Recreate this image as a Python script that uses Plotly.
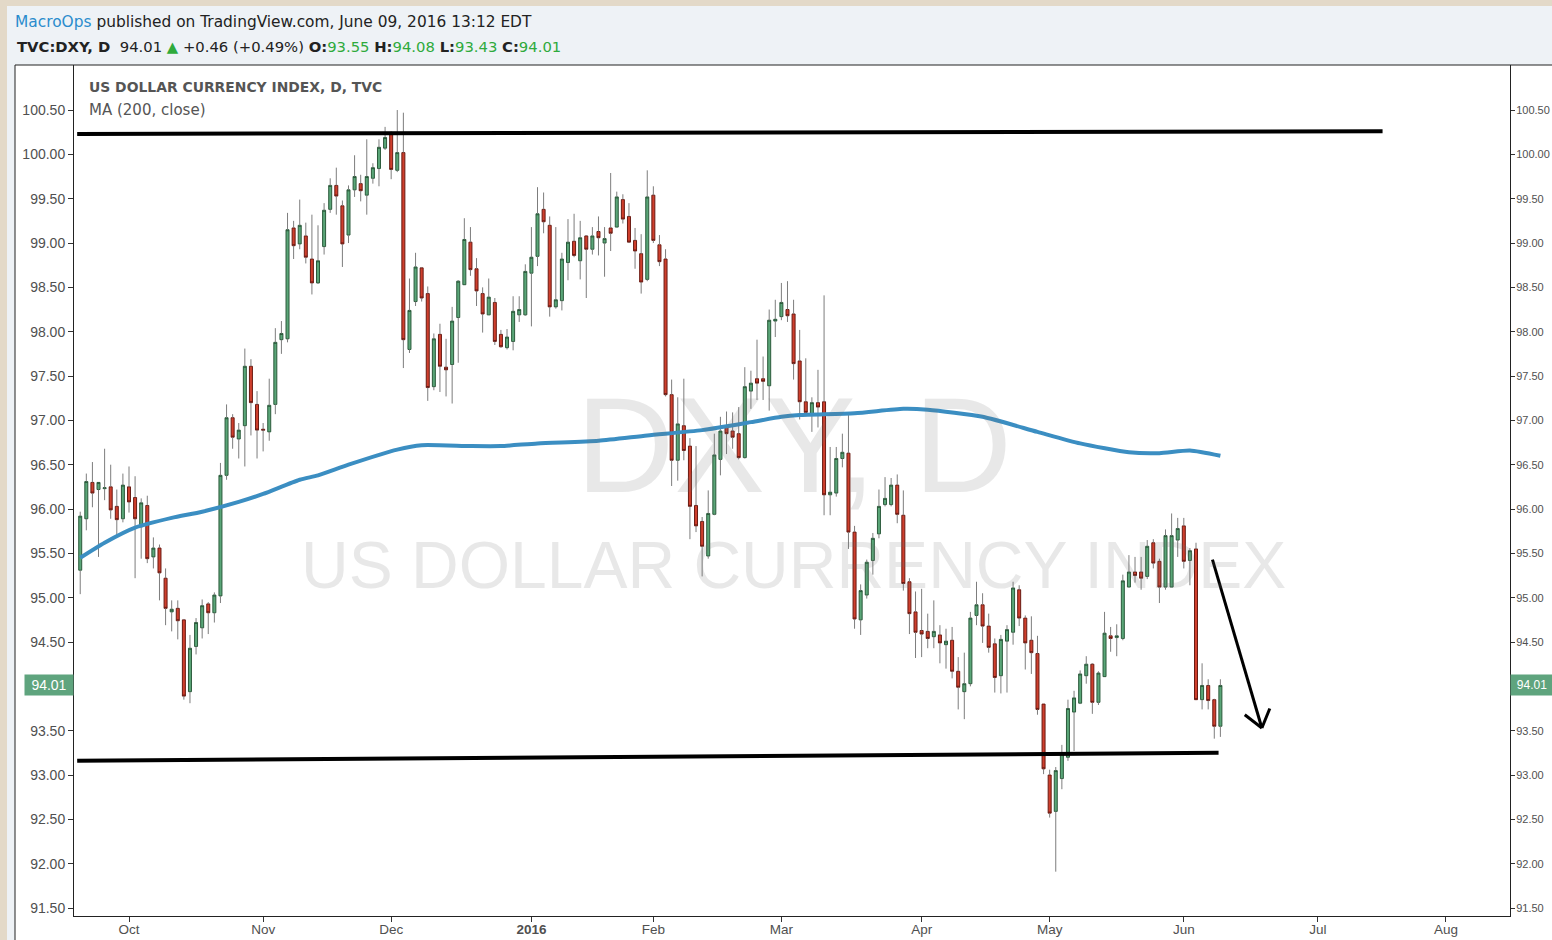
import pandas as pd
import plotly.graph_objects as go

# ---------------- data ----------------
FIRST_DAY = "2015-09-21"
LAST_AXIS_DAY = "2016-08-31"
HOLIDAYS = ["2016-01-01"]

OPEN = [95.31,95.89,96.30,96.22,96.23,96.25,96.03,95.89,96.25,96.13,95.80,96.04,95.46,95.56,95.22,94.84,94.88,94.75,93.94,94.45,
        94.66,94.93,94.83,95.02,96.38,97.03,96.79,96.94,97.61,97.18,96.90,96.87,97.18,97.91,97.92,99.17,98.99,99.08,98.82,98.55,
        98.96,99.38,99.65,99.42,99.09,99.60,99.67,99.54,99.73,99.84,100.07,100.24,99.82,100.02,97.80,98.34,98.72,98.43,97.38,97.97,
        97.60,97.63,98.16,98.53,99.01,98.71,98.43,98.19,98.33,97.97,97.82,97.89,98.19,98.19,98.66,98.85,99.38,99.20,98.28,98.35,
        98.78,99.02,98.80,99.08,98.93,99.13,99.00,99.17,99.18,99.49,99.30,99.03,98.88,98.59,99.54,98.98,98.82,97.29,96.55,96.94,
        96.71,96.04,95.86,95.47,95.94,96.56,96.93,96.88,96.85,96.58,97.33,97.47,97.47,97.39,98.12,98.17,98.25,98.20,97.67,97.21,
        97.07,97.20,97.21,96.16,96.18,96.57,96.63,95.74,94.75,95.03,95.42,95.72,96.05,96.05,96.27,95.93,95.18,94.84,94.63,94.62,
        94.56,94.58,94.47,94.52,94.17,93.94,94.03,94.80,94.92,94.68,94.48,94.12,94.51,94.61,95.09,94.77,94.52,94.37,93.80,93.00,
        92.59,92.96,93.20,93.71,93.81,94.12,94.25,93.82,94.11,94.57,94.55,94.54,95.12,95.29,95.29,95.24,95.62,95.41,95.12,95.12,
        95.65,95.81,95.42,95.55,93.85,94.01,93.85,93.55]
HIGH = [95.97,96.40,96.53,96.30,96.68,96.50,96.22,96.40,96.48,96.37,96.12,96.15,95.68,95.60,95.33,94.97,94.97,94.76,94.58,94.77,
        94.98,94.95,95.06,96.52,97.18,97.07,96.97,97.81,97.69,97.33,96.97,97.47,98.04,98.12,99.34,99.25,99.49,99.23,99.32,99.20,
        99.45,99.73,99.85,99.48,99.65,99.99,99.77,100.17,99.90,100.17,100.31,100.26,100.50,100.47,98.60,98.89,98.73,98.51,97.98,98.09,
        97.92,98.28,98.58,99.28,99.18,98.83,98.50,98.60,98.38,98.02,98.03,98.40,98.40,98.76,99.18,99.63,99.57,99.30,99.18,98.89,
        99.27,99.33,99.25,99.09,99.18,99.30,99.18,99.79,99.58,99.55,99.45,99.17,99.10,99.82,99.64,99.09,98.93,97.46,97.26,97.47,
        96.80,96.71,95.91,96.21,96.85,97.04,97.10,97.09,97.15,97.60,97.56,97.91,97.72,98.25,98.36,98.55,98.57,98.36,98.02,97.70,
        97.26,97.57,98.41,96.70,96.70,96.85,97.06,95.81,95.15,95.43,95.73,96.22,96.36,96.35,96.39,96.21,95.22,95.07,95.10,94.82,
        94.97,94.69,94.65,94.67,94.33,94.38,94.84,95.18,95.05,94.82,94.54,94.58,94.69,95.18,95.14,94.80,94.79,94.57,93.80,93.06,
        93.09,93.34,93.85,93.95,94.18,94.34,94.26,94.17,94.84,94.67,94.70,95.26,95.48,95.46,95.46,95.65,95.66,95.44,95.77,95.95,
        95.90,95.90,95.56,95.62,94.26,94.08,93.86,94.08]
LOW = [95.04,95.76,96.02,95.46,96.10,95.89,95.69,95.85,95.96,95.22,95.44,95.39,95.33,94.97,94.69,94.62,94.53,93.85,93.81,94.36,
       94.54,94.59,94.72,94.94,96.33,96.68,96.57,96.48,96.83,96.57,96.65,96.77,97.07,97.75,97.88,98.82,98.93,98.77,98.42,98.54,
       98.87,99.34,99.32,98.73,99.00,99.52,99.47,99.32,99.67,99.64,100.05,99.72,99.80,97.59,97.76,98.29,98.34,97.22,97.34,97.32,
       97.27,97.19,97.65,98.53,98.63,98.29,97.99,98.19,97.85,97.82,97.80,97.79,98.11,98.18,98.06,98.74,99.11,98.17,98.26,98.24,
       98.58,98.84,98.59,98.38,98.87,98.86,98.62,98.91,99.18,99.22,99.00,98.71,98.43,98.57,99.00,98.74,97.27,96.26,96.32,96.55,
       95.66,95.74,95.24,95.44,95.93,96.38,96.62,96.68,96.56,96.57,97.13,97.23,97.23,97.11,97.94,98.13,98.11,97.46,97.01,97.05,
       96.87,96.92,95.93,95.93,96.14,96.47,95.55,94.65,94.58,94.99,95.26,95.67,96.03,96.03,95.84,95.08,94.59,94.32,94.33,94.43,
       94.43,94.26,94.20,94.09,93.74,93.63,94.00,94.69,94.49,94.38,93.93,93.92,93.93,94.47,94.68,94.19,94.14,93.68,93.01,92.52,
       91.91,92.84,93.16,93.27,93.80,94.03,93.69,93.79,94.11,94.39,94.34,94.52,95.12,95.17,95.09,95.21,95.33,94.94,95.09,95.12,
       95.46,95.33,95.14,93.85,93.74,93.74,93.41,93.43]
CLOSE = [95.92,96.31,96.18,96.30,96.24,95.99,95.88,96.27,96.08,95.89,96.07,95.44,95.56,95.28,94.88,94.87,94.74,93.89,94.43,94.72,
         94.91,94.83,95.03,96.38,97.03,96.81,96.89,97.61,97.20,96.89,96.89,97.17,97.88,97.98,99.15,98.97,99.20,98.84,98.55,98.80,
         99.37,99.65,99.53,98.99,99.60,99.75,99.59,99.75,99.85,100.08,100.19,99.83,100.02,97.91,98.24,98.73,98.38,97.37,97.92,97.61,
         97.57,98.12,98.57,99.04,98.70,98.46,98.20,98.39,97.89,97.83,97.94,98.23,98.25,98.68,98.84,99.33,99.24,98.28,98.36,98.82,
         99.01,98.86,99.06,98.93,99.08,99.06,99.05,99.11,99.52,99.27,99.01,98.91,98.56,99.52,99.03,98.79,97.29,96.55,96.96,96.66,
         96.03,95.81,95.58,95.95,96.61,96.88,96.85,96.81,96.58,97.38,97.42,97.42,97.44,98.13,98.14,98.33,98.18,97.64,97.21,97.09,
         97.20,97.15,96.16,96.19,96.57,96.64,95.74,94.76,95.08,95.40,95.67,96.03,96.12,96.27,95.94,95.16,94.82,94.61,94.59,94.54,
         94.62,94.49,94.51,94.17,93.99,94.03,94.77,94.92,94.68,94.44,94.10,94.53,94.64,95.11,94.77,94.49,94.38,93.74,93.07,92.57,
         93.05,93.25,93.75,93.87,94.14,94.25,93.82,94.15,94.60,94.54,94.57,95.19,95.29,95.25,95.22,95.58,95.39,95.12,95.70,95.70,
         95.78,95.41,95.53,93.85,94.01,93.84,93.55,94.01]

# 200-day moving average, read at sampled bars (bar index, value)
MA_IDX = [0, 4, 9, 15, 20, 26, 30, 36, 39, 44, 52, 56, 64, 69, 75, 85, 93, 102, 110, 115,
          118, 127, 135, 139, 148, 157, 164, 172, 177, 182, 187]
MA_VAL = [95.45, 95.62, 95.79, 95.90, 95.97, 96.08, 96.17, 96.33, 96.38, 96.50, 96.67, 96.72, 96.71, 96.71, 96.74,
          96.77, 96.83, 96.89, 96.98, 97.04, 97.06, 97.08, 97.13, 97.12, 97.04, 96.87, 96.74, 96.64, 96.63, 96.66, 96.60]

# hand-drawn annotations (bar index, price)
RESIST_X, RESIST_Y = [-0.5, 213.6], [100.23, 100.26]
SUPPORT_X, SUPPORT_Y = [-0.5, 186.7], [93.16, 93.25]
ARROW_X, ARROW_Y = [185.7, 193.8], [95.43, 93.53]
HEAD_X, HEAD_Y = [191.0, 193.8, 195.1], [93.68, 93.53, 93.75]

Y_TICKS = [91.5, 92.0, 92.5, 93.0, 93.5, 94.0, 94.5, 95.0, 95.5, 96.0, 96.5, 97.0, 97.5, 98.0, 98.5, 99.0, 99.5, 100.0, 100.5]
MONTH_LABELS = {"2015-10": "Oct", "2015-11": "Nov", "2015-12": "Dec", "2016-01": "<b>2016</b>", "2016-02": "Feb",
                "2016-03": "Mar", "2016-04": "Apr", "2016-05": "May", "2016-06": "Jun", "2016-07": "Jul", "2016-08": "Aug"}
LAST_PRICE = 94.01

# ---------------- derived ----------------
days = pd.bdate_range(FIRST_DAY, LAST_AXIS_DAY)
days = [d for d in days if d.strftime("%Y-%m-%d") not in HOLIDAYS]
all_dates = [d.strftime("%Y-%m-%d") for d in days]
n = len(CLOSE)
dates = all_dates[:n]

tickvals, ticktext, seen = [], [], set()
for d in all_dates:
    m = d[:7]
    if m in MONTH_LABELS and m not in seen:
        seen.add(m)
        tickvals.append(d)
        ticktext.append(MONTH_LABELS[m])

body_hi = [max(o, c) for o, c in zip(OPEN, CLOSE)]
body_lo = [min(o, c) for o, c in zip(OPEN, CLOSE)]
wx, wy = [], []
for d, h, l, bh, bl in zip(dates, HIGH, LOW, body_hi, body_lo):
    wx += [d, d, None, d, d, None]
    wy += [bh, h, None, l, bl, None]

FONT = "Liberation Sans, Arial, sans-serif"
HFONT = "DejaVu Sans, sans-serif"
WFONT = "Liberation Sans, Arial, sans-serif"

fig = go.Figure()
fig.add_trace(go.Candlestick(
    x=dates, open=OPEN, high=body_hi, low=body_lo, close=CLOSE,
    increasing=dict(fillcolor="#5aa678", line=dict(color="#2b5a3b", width=1)),
    decreasing=dict(fillcolor="#cf3f2d", line=dict(color="#6a1a12", width=1)),
    whiskerwidth=0, hoverinfo="skip", showlegend=False))
fig.add_trace(go.Scatter(x=wx, y=wy, mode="lines", line=dict(color="#7d7d7d", width=1),
                         hoverinfo="skip", showlegend=False))
fig.add_trace(go.Scatter(x=[all_dates[i] for i in MA_IDX], y=MA_VAL, mode="lines",
                         line=dict(color="#3b8ec2", width=4, shape="spline", smoothing=0.6),
                         hoverinfo="skip", showlegend=False))
fig.add_trace(go.Scatter(x=[dates[0]], y=[None], yaxis="y2", mode="markers",
                         hoverinfo="skip", showlegend=False))

# drawn lines
shapes = []
for xs, ys, w in [(RESIST_X, RESIST_Y, 4), (SUPPORT_X, SUPPORT_Y, 4), (ARROW_X, ARROW_Y, 3)]:
    shapes.append(dict(type="line", xref="x", yref="y", x0=xs[0], x1=xs[1], y0=ys[0], y1=ys[1],
                       line=dict(color="black", width=w)))
for k in (0, 2):
    shapes.append(dict(type="line", xref="x", yref="y", x0=HEAD_X[k], x1=HEAD_X[1], y0=HEAD_Y[k], y1=HEAD_Y[1],
                       line=dict(color="black", width=3)))

# page frame (paper coords; plot area spans px 74..1510 x 65..916)
def px(x):
    return (x - 74) / 1436
def py(y):
    return (916 - y) / 851

BEIGE = "#e3d9c8"
shapes += [
    dict(type="rect", xref="paper", yref="paper", x0=px(-5), x1=px(7), y0=py(950), y1=py(-5),
         fillcolor=BEIGE, line=dict(width=0), layer="below"),
    dict(type="rect", xref="paper", yref="paper", x0=px(-5), x1=px(1560), y0=py(6), y1=py(-5),
         fillcolor=BEIGE, line=dict(width=0), layer="below"),
    dict(type="rect", xref="paper", yref="paper", x0=px(15), x1=px(1570), y0=py(960), y1=py(65),
         fillcolor="white", line=dict(color="#222", width=1), layer="below"),
]

ann = []
ann.append(dict(xref="paper", yref="paper", x=px(13), y=py(22), xanchor="left", yanchor="middle", showarrow=False,
                text="<span style='color:#2a8ccd'>MacroOps</span> published on TradingView.com, June 09, 2016 13:12 EDT",
                font=dict(family=HFONT, size=15.4, color="#222")))
G = "#2eaa3c"
ann.append(dict(xref="paper", yref="paper", x=px(15), y=py(46), xanchor="left", yanchor="middle", showarrow=False,
                text=(f"<b>TVC:DXY, D</b>  {CLOSE[-1]:.2f} <span style='color:{G}'>▲</span> +0.46 (+0.49%) "
                      f"<b>O:</b><span style='color:{G}'>{OPEN[-1]:.2f}</span> "
                      f"<b>H:</b><span style='color:{G}'>{HIGH[-1]:.2f}</span> "
                      f"<b>L:</b><span style='color:{G}'>{LOW[-1]:.2f}</span> "
                      f"<b>C:</b><span style='color:{G}'>{CLOSE[-1]:.2f}</span>"),
                font=dict(family=HFONT, size=14.8, color="#222")))
ann.append(dict(xref="paper", yref="paper", x=px(87), y=py(87), xanchor="left", yanchor="middle", showarrow=False,
                text="<b>US DOLLAR CURRENCY INDEX, D, TVC</b>", font=dict(family=HFONT, size=13.9, color="#555")))
ann.append(dict(xref="paper", yref="paper", x=px(87), y=py(110), xanchor="left", yanchor="middle", showarrow=False,
                text="MA (200, close)", font=dict(family=HFONT, size=15, color="#555")))
# watermark
WM = "rgba(110,110,110,0.16)"
ann.append(dict(xref="paper", yref="paper", x=px(794), y=py(445), xanchor="center", yanchor="middle", showarrow=False,
                text="DXY, D", font=dict(family=WFONT, size=136, color=WM)))
ann.append(dict(xref="paper", yref="paper", x=px(793), y=py(565), xanchor="center", yanchor="middle", showarrow=False,
                text="US DOLLAR CURRENCY INDEX", font=dict(family=WFONT, size=66, color=WM)))
# last price labels
ann.append(dict(xref="paper", yref="y", x=0, y=LAST_PRICE, xanchor="right", yanchor="middle", showarrow=False,
                text=f"{LAST_PRICE:.2f}", bgcolor="#5fa47e", width=46, height=18,
                font=dict(family=FONT, size=14, color="white")))
ann.append(dict(xref="paper", yref="y", x=1, y=LAST_PRICE, xanchor="left", yanchor="middle", showarrow=False,
                text=f"{LAST_PRICE:.2f}", bgcolor="#5fa47e", width=40, height=18,
                font=dict(family=FONT, size=12, color="white")))

common = dict(range=[91.41, 101.008], tickvals=Y_TICKS, ticktext=[f"{v:.2f}" for v in Y_TICKS],
              showgrid=False, zeroline=False, showline=True, linecolor="#222", linewidth=1,
              ticks="outside", tickcolor="#333", automargin=False, fixedrange=True)

fig.update_layout(
    width=1552, height=940,
    margin=dict(l=74, r=42, t=65, b=24, pad=0, autoexpand=False),
    paper_bgcolor="#eef2f6", plot_bgcolor="white",
    xaxis=dict(type="category", categoryorder="array", categoryarray=all_dates,
               range=[-1.02, 234.5], tickvals=tickvals, ticktext=ticktext,
               showgrid=False, zeroline=False, showline=True, linecolor="#222", linewidth=1,
               ticks="outside", ticklen=5, tickcolor="#333", automargin=False, ticklabelstandoff=-4,
               tickfont=dict(family=FONT, size=13.5, color="#505050"),
               rangeslider=dict(visible=False), fixedrange=True),
    yaxis=dict(side="left", ticklen=5, tickfont=dict(family=FONT, size=14, color="#505050"), **common),
    yaxis2=dict(side="right", overlaying="y", ticklen=4, ticklabelstandoff=-1,
                tickfont=dict(family=FONT, size=11, color="#505050"), **common),
    shapes=shapes, annotations=ann, showlegend=False,
)

fig.write_html("out.html", config={"displayModeBar": False},
               post_script="document.body.style.margin='0px';document.body.style.overflow='hidden';")
